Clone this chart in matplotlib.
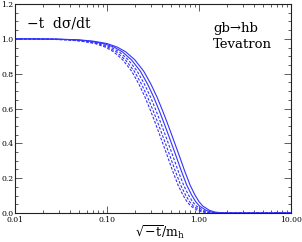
import matplotlib
matplotlib.use("Agg")
import matplotlib.pyplot as plt
from matplotlib.ticker import FixedLocator, MultipleLocator, LogLocator, NullFormatter

plt.rcParams['mathtext.fontset'] = 'dejavuserif'

# shared y levels for all curves
y_levels = [1.0, 0.998, 0.994, 0.987, 0.973, 0.952, 0.925, 0.88, 0.815, 0.74, 0.665, 0.59,
            0.52, 0.455, 0.34, 0.24, 0.16, 0.105, 0.065, 0.04, 0.015, 0.005, 0.001, 0.0, 0.0]

# x positions of each curve at those levels
x_solid1 = [0.01, 0.03, 0.05, 0.07, 0.1, 0.13, 0.16, 0.2, 0.25, 0.3, 0.35, 0.4, 0.45, 0.5,
            0.6, 0.7, 0.8, 0.9, 1.0, 1.1, 1.3, 1.5, 1.8, 2.2, 10]
x_solid2 = [0.01, 0.028, 0.046, 0.064, 0.092, 0.12, 0.147, 0.184, 0.23, 0.276, 0.322, 0.368,
            0.414, 0.46, 0.552, 0.644, 0.736, 0.828, 0.92, 1.012, 1.196, 1.38, 1.656, 2.02, 10]
x_dash1 = [0.01, 0.0255, 0.0425, 0.0595, 0.085, 0.1105, 0.136, 0.17, 0.2125, 0.255, 0.2975,
           0.34, 0.3825, 0.425, 0.51, 0.595, 0.68, 0.765, 0.85, 0.935, 1.105, 1.275, 1.53, 1.87, 10]
x_dash2 = [0.01, 0.0237, 0.0395, 0.0553, 0.079, 0.1027, 0.1264, 0.158, 0.1975, 0.237, 0.2765,
           0.316, 0.3555, 0.395, 0.474, 0.553, 0.632, 0.711, 0.79, 0.869, 1.027, 1.185, 1.422, 1.738, 10]
x_dash3 = [0.01, 0.0222, 0.037, 0.0518, 0.074, 0.0962, 0.1184, 0.148, 0.185, 0.222, 0.259,
           0.296, 0.333, 0.37, 0.444, 0.518, 0.592, 0.666, 0.74, 0.814, 0.962, 1.11, 1.332, 1.628, 10]

x_ticks = [0.01, 0.1, 1.0, 10.0]
x_ticklabels = ["0.01", "0.10", "1.00", "10.00"]
y_ticks = [0.0, 0.2, 0.4, 0.6, 0.8, 1.0, 1.2]
y_ticklabels = ["0.0", "0.2", "0.4", "0.6", "0.8", "1.0", "1.2"]

fig = plt.figure(figsize=(3.02, 2.42), dpi=100)
ax = fig.add_axes([0.0497, 0.1198, 0.9139, 0.8637])

col = '#3333ff'
lw = 0.8
ax.plot(x_solid1, y_levels, color=col, lw=lw)
ax.plot(x_solid2, y_levels, color=col, lw=lw)
for xs in (x_dash1, x_dash2, x_dash3):
    ax.plot(xs, y_levels, color=col, lw=lw, dashes=(2.5, 1.5))

ax.set_xscale('log')
ax.set_xlim(0.01, 10)
ax.set_ylim(0, 1.2)
ax.xaxis.set_major_locator(FixedLocator(x_ticks))
ax.set_xticklabels(x_ticklabels)
ax.xaxis.set_minor_locator(LogLocator(base=10, subs=range(2, 10)))
ax.xaxis.set_minor_formatter(NullFormatter())
ax.yaxis.set_major_locator(FixedLocator(y_ticks))
ax.set_yticklabels(y_ticklabels)
ax.yaxis.set_minor_locator(MultipleLocator(0.05))

ax.tick_params(which='both', direction='in', top=True, right=True, labelsize=5.5,
               color='#444444', width=0.6)
ax.tick_params(axis='y', which='both', pad=1.2)
ax.tick_params(axis='x', which='both', pad=2.5)
ax.tick_params(which='major', length=5)
ax.tick_params(which='minor', length=2.5)
for lbl in ax.get_xticklabels() + ax.get_yticklabels():
    lbl.set_family('DejaVu Serif')
for s in ax.spines.values():
    s.set_linewidth(0.8)
    s.set_color('#222222')

ax.text(0.043, 0.905, "\u2212t  d\u03c3/dt", transform=ax.transAxes, fontsize=10,
        family='DejaVu Serif', va='center', ha='left')
ax.text(0.717, 0.885, "gb\u2192hb", transform=ax.transAxes, fontsize=9.5,
        family='DejaVu Serif', va='center', ha='left')
ax.text(0.717, 0.805, "Tevatron", transform=ax.transAxes, fontsize=9.5,
        family='DejaVu Serif', va='center', ha='left')
ax.set_xlabel(r'$\sqrt{-\mathrm{t}}/\mathrm{m_h}$', fontsize=9)
ax.xaxis.label.set_va('center')
ax.xaxis.set_label_coords(0.525, -0.093)

fig.savefig("out.png", dpi=100)
